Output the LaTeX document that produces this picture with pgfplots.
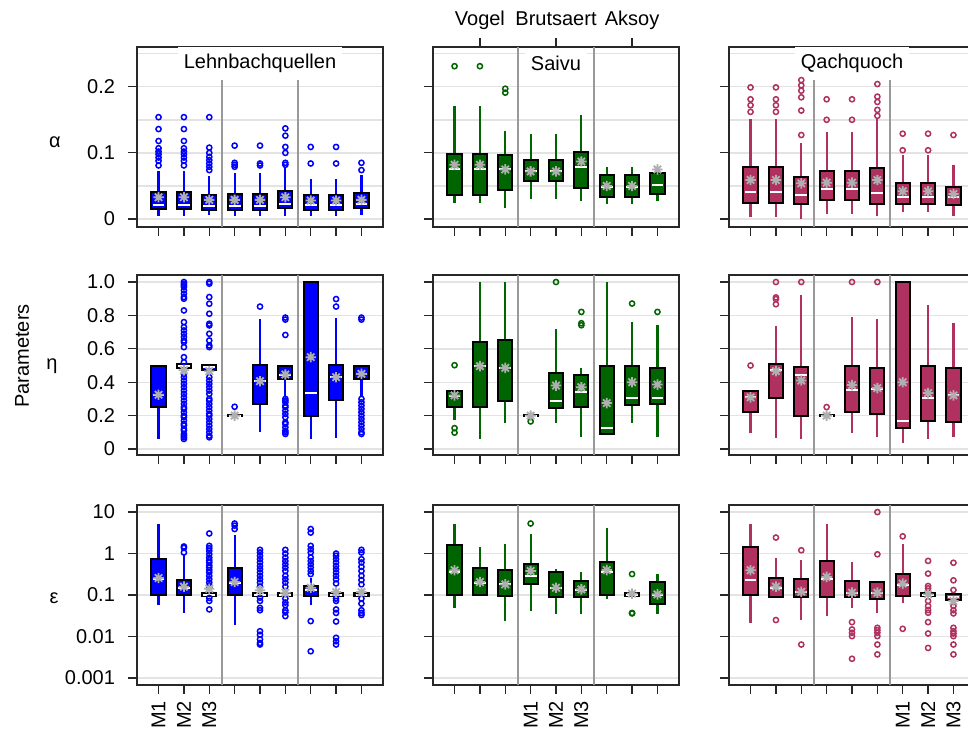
\documentclass[border=0pt]{standalone}
\usepackage{fontspec}
\setmainfont{Liberation Sans}
\usepackage{pgfplots}
\pgfplotsset{compat=1.18}
\usepgfplotslibrary{statistics}
\definecolor{cBlue}{RGB}{0,0,255}
\definecolor{cGreen}{RGB}{0,100,0}
\definecolor{cMaroon}{RGB}{176,48,96}
\definecolor{cMean}{RGB}{175,175,175}
\definecolor{cFrame}{RGB}{40,40,40}
\colorlet{cc}{cBlue}
% 8-ray asterisk for the means
\pgfdeclareplotmark{ast8}{%
  \pgfpathmoveto{\pgfqpoint{-\pgfplotmarksize}{0pt}}\pgfpathlineto{\pgfqpoint{\pgfplotmarksize}{0pt}}%
  \pgfpathmoveto{\pgfqpoint{0pt}{-\pgfplotmarksize}}\pgfpathlineto{\pgfqpoint{0pt}{\pgfplotmarksize}}%
  \pgfpathmoveto{\pgfqpoint{-0.707\pgfplotmarksize}{-0.707\pgfplotmarksize}}\pgfpathlineto{\pgfqpoint{0.707\pgfplotmarksize}{0.707\pgfplotmarksize}}%
  \pgfpathmoveto{\pgfqpoint{-0.707\pgfplotmarksize}{0.707\pgfplotmarksize}}\pgfpathlineto{\pgfqpoint{0.707\pgfplotmarksize}{-0.707\pgfplotmarksize}}%
  \pgfusepathqstroke}
\pgfplotsset{
  pan/.style={scale only axis, width=123pt, height=90pt, anchor=south west,
    xmin=0.15, xmax=9.85, xtick={1,...,9}, xticklabels={,,,,,,,,},
    tick align=outside, xtick pos=left, ytick pos=left,
    major tick length=4.5pt, minor tick length=0pt,
    tick style={cFrame, line width=0.6pt},
    axis line style={cFrame, line width=0.9pt},
    ymajorgrids, grid style={gray!22, line width=0.7pt},
    minor grid style={gray!22, line width=0.7pt},
    extra x ticks={3.5,6.5}, extra x tick labels={},
    extra x tick style={grid=major, major grid style={gray!80, line width=0.6pt}, major tick length=0pt},
    yticklabel style={xshift=-3pt},
    xticklabel style={rotate=90, anchor=east}},
  bxs/.style={draw=black, boxplot/draw direction=y, boxplot/box extend=0.56, boxplot/whisker extend=0,
    boxplot/every box/.style={draw=black, fill=cc, line width=1pt},
    boxplot/every whisker/.style={draw=cc, line width=1.1pt},
    boxplot/every median/.style={draw=white, line width=1pt, shorten <=0.6pt, shorten >=0.6pt}},
  meanst/.style={only marks, mark=ast8, mark size=2.6pt, color=cMean, mark options={line width=0.9pt}},
  outst/.style={only marks, mark=o, mark size=1.3pt, color=cc, mark options={line width=0.75pt}},
  r1/.style={ymin=-0.012, ymax=0.26, ytick={0,0.1,0.2}, minor ytick={0.05,0.15,0.25}, yminorgrids},
  r2/.style={ymin=-0.036, ymax=1.042, ytick={0,0.2,0.4,0.6,0.8,1}},
  r3/.style={ymin=6.76e-4, ymax=14.8, ytick={0.001,0.01,0.1,1,10}},
}
% position, lower whisker, lower quartile, median, upper quartile, upper whisker
\newcommand{\bx}[6]{\addplot[bxs, boxplot prepared={draw position=#1, lower whisker=#2,
  lower quartile=#3, median=#4, upper quartile=#5, upper whisker=#6}] coordinates {};}

\begin{document}
\begin{tikzpicture}
\useasboundingbox (0pt,0pt) rectangle (484pt,-365pt);
\clip (0pt,0pt) rectangle (484pt,-365pt);

% ---------------- row 1: alpha ----------------
\colorlet{cc}{cBlue}
\begin{axis}[pan, r1, at={(68.5pt,-113.5pt)}, yticklabels={0,0.1,0.2}]
\bx{1}{0.004}{0.015}{0.021}{0.041}{0.072}
\bx{2}{0.004}{0.015}{0.021}{0.041}{0.072}
\bx{3}{0.0065}{0.014}{0.0196}{0.037}{0.065}
\bx{4}{0.004}{0.014}{0.020}{0.038}{0.069}
\bx{5}{0.004}{0.014}{0.020}{0.038}{0.069}
\bx{6}{0.005}{0.016}{0.023}{0.042}{0.079}
\bx{7}{0.005}{0.014}{0.021}{0.037}{0.060}
\bx{8}{0.005}{0.014}{0.021}{0.037}{0.060}
\bx{9}{0.0065}{0.016}{0.023}{0.039}{0.066}
\addplot[outst] coordinates {(1,0.154)(1,0.136)(1,0.118)(1,0.107)(1,0.102)(1,0.098)(1,0.093)(1,0.088)(1,0.081)
 (2,0.154)(2,0.136)(2,0.118)(2,0.107)(2,0.102)(2,0.098)(2,0.093)(2,0.088)(2,0.081)
 (3,0.154)(3,0.108)(3,0.100)(3,0.094)(3,0.089)(3,0.084)(3,0.079)(3,0.074)
 (4,0.111)(4,0.085)(4,0.082)(4,0.079) (5,0.111)(5,0.084)(5,0.081)
 (6,0.137)(6,0.126)(6,0.109)(6,0.100)(6,0.085)(6,0.082)
 (7,0.109)(7,0.084) (8,0.109)(8,0.084) (9,0.085)(9,0.074)};
\addplot[meanst] coordinates {(1,0.033)(2,0.033)(3,0.029)(4,0.029)(5,0.029)(6,0.033)(7,0.028)(8,0.028)(9,0.029)};
\node[fill=white, inner xsep=3pt, inner ysep=4pt] at (axis cs:5,0.236) {Lehnbachquellen};
\end{axis}

\colorlet{cc}{cGreen}
\begin{axis}[pan, r1, at={(216.5pt,-113.5pt)}, yticklabels={,,}]
\bx{1}{0.024}{0.037}{0.076}{0.0985}{0.171}
\bx{2}{0.024}{0.037}{0.076}{0.0985}{0.171}
\bx{3}{0.017}{0.044}{0.076}{0.0975}{0.133}
\bx{4}{0.030}{0.057}{0.072}{0.090}{0.129}
\bx{5}{0.030}{0.057}{0.072}{0.090}{0.129}
\bx{6}{0.028}{0.047}{0.078}{0.101}{0.157}
\bx{7}{0.023}{0.033}{0.049}{0.066}{0.079}
\bx{8}{0.023}{0.033}{0.049}{0.066}{0.079}
\bx{9}{0.028}{0.038}{0.052}{0.069}{0.074}
\addplot[outst] coordinates {(1,0.231)(2,0.231)(3,0.197)(3,0.191)};
\addplot[meanst] coordinates {(1,0.082)(2,0.082)(3,0.075)(4,0.072)(5,0.072)(6,0.087)(7,0.050)(8,0.050)(9,0.075)};
\node[fill=white, inner xsep=3pt, inner ysep=4pt] at (axis cs:5,0.236) {Saivu};
\end{axis}
\begin{axis}[scale only axis, width=123pt, height=90pt, anchor=south west, at={(216.5pt,-113.5pt)},
  xmin=0.15, xmax=9.85, ymin=0, ymax=1, axis x line*=top, axis y line=none,
  xtick={2,5,8}, xticklabels={Vogel,Brutsaert,Aksoy}, tick align=outside,
  xticklabel style={text depth=2.5pt, text height=8pt},
  major tick length=4.5pt, tick style={cFrame, line width=0.6pt}, axis line style={draw=none}]
\addplot[draw=none] coordinates {(1,0.5)};
\end{axis}

\colorlet{cc}{cMaroon}
\begin{axis}[pan, r1, at={(364.5pt,-113.5pt)}, yticklabels={,,}]
\bx{1}{0.003}{0.024}{0.041}{0.079}{0.151}
\bx{2}{0.003}{0.024}{0.041}{0.079}{0.151}
\bx{3}{0.0}{0.023}{0.036}{0.064}{0.115}
\bx{4}{0.008}{0.029}{0.045}{0.072}{0.132}
\bx{5}{0.008}{0.029}{0.045}{0.072}{0.132}
\bx{6}{0.004}{0.023}{0.040}{0.077}{0.152}
\bx{7}{0.011}{0.023}{0.033}{0.055}{0.097}
\bx{8}{0.011}{0.023}{0.033}{0.055}{0.097}
\bx{9}{0.004}{0.022}{0.033}{0.048}{0.082}
\addplot[outst] coordinates {(1,0.199)(1,0.181)(1,0.172)(1,0.162) (2,0.199)(2,0.181)(2,0.172)(2,0.162)
 (3,0.210)(3,0.202)(3,0.194)(3,0.184)(3,0.164)(3,0.127) (4,0.181)(4,0.150) (5,0.181)(5,0.150)
 (6,0.204)(6,0.185)(6,0.177)(6,0.165)(6,0.156) (7,0.129)(7,0.104) (8,0.129)(8,0.104) (9,0.127)};
\addplot[meanst] coordinates {(1,0.059)(2,0.059)(3,0.054)(4,0.055)(5,0.055)(6,0.059)(7,0.042)(8,0.042)(9,0.038)};
\node[fill=white, inner xsep=3pt, inner ysep=4pt] at (axis cs:5,0.236) {Qachquoch};
\end{axis}

% ---------------- row 2: eta ----------------
\colorlet{cc}{cBlue}
\begin{axis}[pan, r2, at={(68.5pt,-227.5pt)}, yticklabels={0,0.2,0.4,0.6,0.8,1.0}]
\bx{1}{0.06}{0.249}{0.325}{0.5}{0.5}
\bx{2}{0.486}{0.486}{0.5}{0.51}{0.51}
\bx{3}{0.472}{0.472}{0.49}{0.502}{0.502}
\bx{4}{0.196}{0.196}{0.2}{0.204}{0.204}
\bx{5}{0.104}{0.269}{0.406}{0.504}{0.777}
\bx{6}{0.31}{0.42}{0.446}{0.5}{0.5}
\bx{7}{0.06}{0.2}{0.335}{1.0}{1.0}
\bx{8}{0.068}{0.291}{0.43}{0.506}{0.787}
\bx{9}{0.31}{0.42}{0.45}{0.5}{0.5}
\addplot[outst] coordinates {(2,1.0)(2,0.99)(2,0.98)(2,0.97)(2,0.95)(2,0.93)(2,0.91)(2,0.90)(2,0.83)(2,0.76)(2,0.73)
 (2,0.71)(2,0.69)(2,0.67)(2,0.65)(2,0.64)(2,0.61)(2,0.55)(2,0.52)(2,0.45)(2,0.43)(2,0.41)(2,0.39)(2,0.37)
 (2,0.35)(2,0.33)(2,0.31)(2,0.29)(2,0.27)(2,0.25)(2,0.24)(2,0.22)(2,0.20)(2,0.19)(2,0.17)(2,0.15)(2,0.14)
 (2,0.12)(2,0.11)(2,0.09)(2,0.08)(2,0.07)(2,0.06)
 (3,1.0)(3,0.99)(3,0.91)(3,0.87)(3,0.81)(3,0.75)(3,0.74)(3,0.69)(3,0.65)(3,0.62)(3,0.61)(3,0.43)(3,0.41)
 (3,0.39)(3,0.37)(3,0.35)(3,0.33)(3,0.30)(3,0.29)(3,0.27)(3,0.25)(3,0.23)(3,0.21)(3,0.20)(3,0.18)(3,0.16)
 (3,0.14)(3,0.12)(3,0.10)(3,0.08)(3,0.07)
 (4,0.253) (5,0.853)
 (6,0.787)(6,0.775)(6,0.683)(6,0.30)(6,0.29)(6,0.28)(6,0.26)(6,0.25)(6,0.23)(6,0.21)(6,0.19)(6,0.16)(6,0.15)
 (6,0.13)(6,0.11)(6,0.10)(6,0.09)
 (8,0.898)(8,0.853)
 (9,0.787)(9,0.775)(9,0.30)(9,0.28)(9,0.26)(9,0.24)(9,0.22)(9,0.20)(9,0.18)(9,0.16)(9,0.14)(9,0.12)(9,0.10)(9,0.09)};
\addplot[meanst] coordinates {(1,0.325)(2,0.472)(3,0.466)(4,0.2)(5,0.406)(6,0.446)(7,0.55)(8,0.43)(9,0.45)};
\end{axis}

\colorlet{cc}{cGreen}
\begin{axis}[pan, r2, at={(216.5pt,-227.5pt)}, yticklabels={,,,,,}]
\bx{1}{0.175}{0.249}{0.32}{0.345}{0.345}
\bx{2}{0.06}{0.251}{0.5}{0.643}{1.0}
\bx{3}{0.155}{0.289}{0.486}{0.651}{1.0}
\bx{4}{0.196}{0.196}{0.2}{0.204}{0.204}
\bx{5}{0.155}{0.245}{0.285}{0.456}{0.721}
\bx{6}{0.074}{0.251}{0.339}{0.446}{0.486}
\bx{7}{0.092}{0.092}{0.125}{0.5}{1.0}
\bx{8}{0.155}{0.265}{0.303}{0.5}{0.761}
\bx{9}{0.074}{0.269}{0.305}{0.484}{0.741}
\addplot[outst] coordinates {(1,0.502)(1,0.125)(1,0.098)(4,0.165)(5,1.0)(6,0.821)(6,0.753)(6,0.741)(8,0.871)(9,0.821)};
\addplot[meanst] coordinates {(1,0.321)(2,0.496)(3,0.486)(4,0.2)(5,0.38)(6,0.37)(7,0.275)(8,0.4)(9,0.386)};
\end{axis}

\colorlet{cc}{cMaroon}
\begin{axis}[pan, r2, at={(364.5pt,-227.5pt)}, yticklabels={,,,,,}]
\bx{1}{0.094}{0.223}{0.309}{0.345}{0.345}
\bx{2}{0.068}{0.305}{0.476}{0.51}{0.737}
\bx{3}{0.06}{0.199}{0.444}{0.494}{0.92}
\bx{4}{0.196}{0.196}{0.2}{0.204}{0.204}
\bx{5}{0.096}{0.219}{0.355}{0.5}{0.791}
\bx{6}{0.074}{0.209}{0.36}{0.488}{0.777}
\bx{7}{0.034}{0.125}{0.167}{1.0}{1.0}
\bx{8}{0.06}{0.169}{0.303}{0.5}{0.861}
\bx{9}{0.07}{0.163}{0.321}{0.486}{0.753}
\addplot[outst] coordinates {(1,0.5)(2,1.0)(2,0.908)(2,0.898)(2,0.867)(3,1.0)(4,0.251)(5,1.0)(6,1.0)};
\addplot[meanst] coordinates {(1,0.309)(2,0.466)(3,0.41)(4,0.2)(5,0.383)(6,0.365)(7,0.4)(8,0.335)(9,0.321)};
\end{axis}

% ---------------- row 3: epsilon ----------------
\colorlet{cc}{cBlue}
\begin{axis}[pan, r3, ymode=log, at={(68.5pt,-342.5pt)}, yticklabels={0.001,0.01,0.1,1,10},
  xticklabels={M1,M2,M3,,,,,,}]
\bx{1}{0.059}{0.1}{0.25}{0.757}{5.1}
\bx{2}{0.037}{0.1}{0.15}{0.23}{0.9}
\bx{3}{0.095}{0.095}{0.1}{0.11}{0.11}
\bx{4}{0.0188}{0.1}{0.2}{0.442}{2.78}
\bx{5}{0.095}{0.095}{0.1}{0.11}{0.11}
\bx{6}{0.095}{0.095}{0.1}{0.11}{0.11}
\bx{7}{0.056}{0.096}{0.13}{0.165}{0.26}
\bx{8}{0.095}{0.095}{0.1}{0.11}{0.11}
\bx{9}{0.095}{0.095}{0.1}{0.11}{0.11}
\addplot[outst] coordinates {(2,1.48)(2,1.37)(2,1.06)
 (3,3.05)(3,1.53)(3,1.34)(3,1.16)(3,0.96)(3,0.80)(3,0.69)(3,0.61)(3,0.52)(3,0.46)(3,0.40)(3,0.35)(3,0.29)
 (3,0.24)(3,0.20)(3,0.17)(3,0.15)(3,0.085)(3,0.072)(3,0.045)
 (4,5.3)(4,4.7)(4,3.9)
 (5,1.23)(5,1.06)(5,0.88)(5,0.73)(5,0.61)(5,0.50)(5,0.42)(5,0.35)(5,0.29)(5,0.24)(5,0.20)(5,0.16)
 (5,0.086)(5,0.072)(5,0.049)(5,0.043)(5,0.0134)(5,0.011)(5,0.0085)(5,0.007)(5,0.0064)
 (6,1.23)(6,1.0)(6,0.8)(6,0.66)(6,0.55)(6,0.46)(6,0.38)(6,0.29)(6,0.24)(6,0.2)(6,0.16)
 (6,0.082)(6,0.066)(6,0.057)(6,0.043)(6,0.038)(6,0.031)
 (7,3.9)(7,3.2)(7,1.53)(7,1.27)(7,1.06)(7,0.80)(7,0.66)(7,0.55)(7,0.46)(7,0.38)(7,0.32)(7,0.0235)(7,0.0044)
 (8,1.0)(8,0.88)(8,0.73)(8,0.61)(8,0.5)(8,0.42)(8,0.35)(8,0.29)(8,0.24)(8,0.19)
 (8,0.082)(8,0.072)(8,0.045)(8,0.037)(8,0.023)(8,0.0093)(8,0.0077)(8,0.0064)
 (9,1.23)(9,1.06)(9,0.73)(9,0.61)(9,0.48)(9,0.38)(9,0.29)(9,0.23)(9,0.18)
 (9,0.082)(9,0.062)(9,0.043)(9,0.037)(9,0.033)};
\addplot[meanst] coordinates {(1,0.257)(2,0.159)(3,0.142)(4,0.206)(5,0.13)(6,0.114)(7,0.15)(8,0.118)(9,0.118)};
\end{axis}

\colorlet{cc}{cGreen}
\begin{axis}[pan, r3, ymode=log, at={(216.5pt,-342.5pt)}, yticklabels={,,,,},
  xticklabels={,,,M1,M2,M3,,,}]
\bx{1}{0.0475}{0.1}{0.36}{1.65}{5.3}
\bx{2}{0.1}{0.1}{0.2}{0.442}{1.4}
\bx{3}{0.0235}{0.095}{0.18}{0.4}{1.68}
\bx{4}{0.041}{0.181}{0.29}{0.574}{3.0}
\bx{5}{0.034}{0.091}{0.15}{0.35}{0.417}
\bx{6}{0.034}{0.091}{0.13}{0.218}{0.35}
\bx{7}{0.079}{0.098}{0.35}{0.63}{4.2}
\bx{8}{0.095}{0.095}{0.1}{0.11}{0.11}
\bx{9}{0.034}{0.062}{0.1}{0.21}{0.33}
\addplot[outst] coordinates {(4,5.3)(8,0.32)(8,0.037)(8,0.036)};
\addplot[meanst] coordinates {(1,0.395)(2,0.206)(3,0.18)(4,0.38)(5,0.15)(6,0.137)(7,0.40)(8,0.108)(9,0.104)};
\end{axis}

\colorlet{cc}{cMaroon}
\begin{axis}[pan, r3, ymode=log, at={(364.5pt,-342.5pt)}, yticklabels={,,,,},
  xticklabels={,,,,,,M1,M2,M3}]
\bx{1}{0.0214}{0.1}{0.226}{1.45}{5.3}
\bx{2}{0.091}{0.091}{0.15}{0.257}{0.76}
\bx{3}{0.025}{0.09}{0.12}{0.248}{0.69}
\bx{4}{0.032}{0.091}{0.25}{0.66}{5.1}
\bx{5}{0.049}{0.091}{0.11}{0.218}{0.63}
\bx{6}{0.037}{0.081}{0.11}{0.207}{0.207}
\bx{7}{0.065}{0.096}{0.17}{0.33}{1.74}
\bx{8}{0.095}{0.095}{0.1}{0.11}{0.11}
\bx{9}{0.0743}{0.0743}{0.09}{0.108}{0.108}
\addplot[outst] coordinates {(2,2.43)(2,0.0249)(3,1.2)(3,0.0064)
 (5,0.0222)(5,0.0148)(5,0.0123)(5,0.0102)(5,0.0029)
 (6,10.0)(6,0.96)(6,0.0162)(6,0.0142)(6,0.0123)(6,0.0102)(6,0.0064)(6,0.0037)
 (7,2.6)(7,0.0153)
 (8,0.665)(8,0.328)(8,0.165)(8,0.145)(8,0.0716)(8,0.0542)(8,0.0434)(8,0.0374)(8,0.0222)(8,0.0118)(8,0.0053)
 (9,0.6)(9,0.226)(9,0.132)(9,0.054)(9,0.043)(9,0.036)(9,0.0162)(9,0.0134)(9,0.0118)(9,0.0102)(9,0.0064)(9,0.0037)};
\addplot[meanst] coordinates {(1,0.395)(2,0.159)(3,0.12)(4,0.273)(5,0.114)(6,0.114)(7,0.188)(8,0.104)(9,0.0716)};
\end{axis}

% ---------------- row labels ----------------
\node at (27.5pt,-71pt) {α};
\node at (26pt,-183pt) {η};
\node at (27pt,-299pt) {ε};
\node[rotate=90] at (11pt,-178pt) {Parameters};
\end{tikzpicture}
\end{document}
